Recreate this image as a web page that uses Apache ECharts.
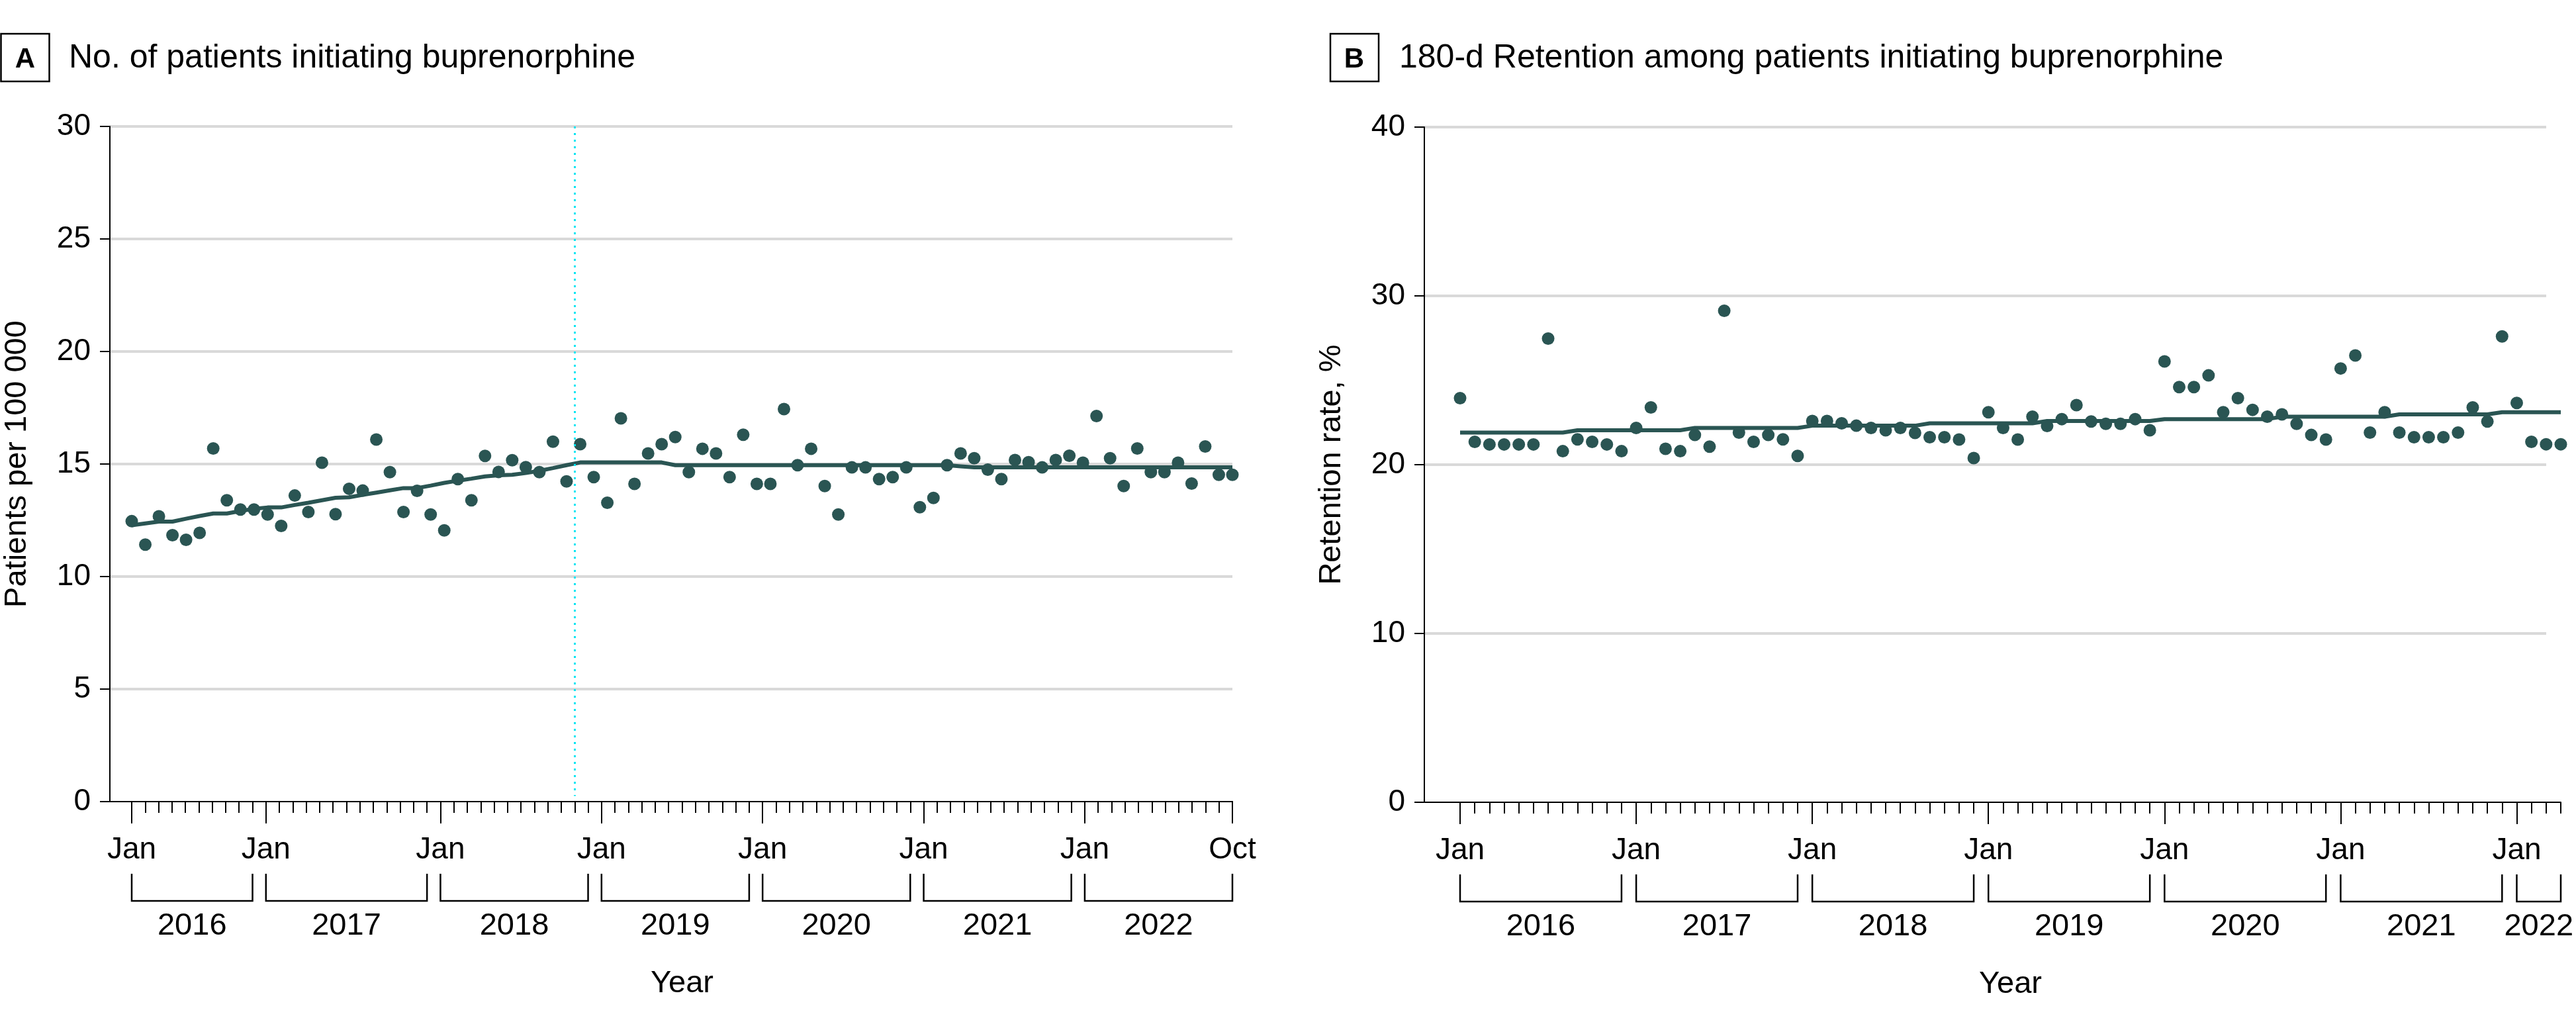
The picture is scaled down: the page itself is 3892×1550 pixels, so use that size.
<!DOCTYPE html>
<html><head><meta charset="utf-8">
<script src="https://cdn.jsdelivr.net/npm/echarts@6/dist/echarts.min.js"></script>
<style>html,body{margin:0;padding:0;background:#fff}#c{width:3892px;height:1550px}</style>
</head><body><div id="c"></div>
<script>
const FONT = '"Liberation Sans", Arial, sans-serif';
const TEAL = '#2a5553';
const GRID_GRAY = '#d9d9d9';

// ---------- Panel A: No. of patients initiating buprenorphine (Jan 2016 - Oct 2022) ----------
const patientsA = [12.46, 11.42, 12.68, 11.84, 11.63, 11.94, 15.69, 13.39, 12.98, 12.98,
  12.76, 12.25, 13.60, 12.87, 15.06, 12.77, 13.90, 13.82, 16.09, 14.64,
  12.87, 13.81, 12.76, 12.05, 14.33, 13.39, 15.36, 14.65, 15.17, 14.86,
  14.64, 15.99, 14.23, 15.88, 14.42, 13.28, 17.03, 14.12, 15.47, 15.88,
  16.20, 14.64, 15.68, 15.47, 14.42, 16.30, 14.12, 14.12, 17.44, 14.95,
  15.68, 14.02, 12.76, 14.85, 14.85, 14.33, 14.42, 14.85, 13.08, 13.49,
  14.95, 15.47, 15.26, 14.75, 14.33, 15.18, 15.08, 14.85, 15.18, 15.37,
  15.06, 17.13, 15.26, 14.02, 15.69, 14.64, 14.64, 15.06, 14.13, 15.78,
  14.52, 14.52];
const trendA = [12.28, 12.36, 12.44, 12.44, 12.57, 12.69, 12.80, 12.80, 12.91, 13.01,
  13.07, 13.07, 13.18, 13.28, 13.39, 13.50, 13.52, 13.63, 13.73, 13.83,
  13.93, 13.93, 14.04, 14.16, 14.26, 14.35, 14.45, 14.50, 14.52, 14.60,
  14.70, 14.82, 14.95, 15.07, 15.07, 15.07, 15.07, 15.07, 15.07, 15.07,
  14.95, 14.95, 14.95, 14.95, 14.95, 14.95, 14.95, 14.95, 14.95, 14.95,
  14.95, 14.95, 14.95, 14.95, 14.95, 14.95, 14.95, 14.95, 14.95, 14.95,
  14.95, 14.90, 14.85, 14.85, 14.85, 14.85, 14.85, 14.85, 14.85, 14.85,
  14.85, 14.85, 14.85, 14.85, 14.85, 14.85, 14.85, 14.85, 14.85, 14.85,
  14.85, 14.85];
const tickCountA = 83;
const tickMajorA = [0, 10, 23, 35, 47, 59, 71, 82];
const tickMajorTextA = ['Jan', 'Jan', 'Jan', 'Jan', 'Jan', 'Jan', 'Jan', 'Oct'];
const yearsA = ['2016', '2017', '2018', '2019', '2020', '2021', '2022'];
const bracketStartA = [0, 10, 23, 35, 47, 59, 71];
const bracketEndA = [9, 22, 34, 46, 58, 70, 82];
const cyanLineA = 32.6;

// ---------- Panel B: 180-d retention (Jan 2016 - Apr 2022) ----------
const retentionB = [23.94, 21.35, 21.20, 21.20, 21.20, 21.20, 27.47, 20.80, 21.50, 21.35,
  21.20, 20.80, 22.18, 23.39, 20.94, 20.80, 21.76, 21.07, 29.12, 21.90,
  21.35, 21.76, 21.50, 20.52, 22.59, 22.59, 22.45, 22.31, 22.18, 22.04,
  22.18, 21.88, 21.63, 21.63, 21.49, 20.39, 23.11, 22.18, 21.49, 22.84,
  22.29, 22.70, 23.53, 22.56, 22.42, 22.42, 22.70, 22.04, 26.12, 24.60,
  24.60, 25.29, 23.11, 23.94, 23.25, 22.84, 22.98, 22.42, 21.76, 21.49,
  25.70, 26.47, 21.90, 23.11, 21.90, 21.63, 21.63, 21.63, 21.90, 23.39,
  22.56, 27.60, 23.66, 21.35, 21.21, 21.21];
const trendB = [21.90, 21.90, 21.90, 21.90, 21.90, 21.90, 21.90, 21.90,
  22.04, 22.04, 22.04, 22.04, 22.04, 22.04, 22.04, 22.04,
  22.18, 22.18, 22.18, 22.18, 22.18, 22.18, 22.18, 22.18,
  22.31, 22.31, 22.31, 22.31, 22.31, 22.31, 22.31, 22.31,
  22.45, 22.45, 22.45, 22.45, 22.45, 22.45, 22.45, 22.45,
  22.59, 22.59, 22.59, 22.59, 22.59, 22.59, 22.59, 22.59,
  22.70, 22.70, 22.70, 22.70, 22.70, 22.70, 22.70, 22.70,
  22.84, 22.84, 22.84, 22.84, 22.84, 22.84, 22.84, 22.84,
  22.98, 22.98, 22.98, 22.98, 22.98, 22.98, 22.98,
  23.11, 23.11, 23.11, 23.11, 23.11];
const tickCountB = 76;
const tickMajorB = [0, 12, 24, 36, 48, 60, 72];
const tickMajorTextB = ['Jan', 'Jan', 'Jan', 'Jan', 'Jan', 'Jan', 'Jan'];
const yearsB = ['2016', '2017', '2018', '2019', '2020', '2021', '2022'];
const bracketStartB = [0, 12, 24, 36, 48, 60, 72];
const bracketEndB = [11, 23, 35, 47, 59, 71, 75];

// ---------- helpers ----------
function tickKeys(n) { const a = []; for (let i = 0; i < n; i++) a.push('t' + i); return a; }
function labelMap(majors, texts) { const m = {}; majors.forEach((v, k) => { m[v] = texts[k]; }); return m; }
const txt = { color: '#000', fontFamily: FONT };

function mainAxes(gridIndex, yMax, yInterval, yName, nLines) {
  const colors = [];
  for (let i = 0; i < nLines; i++) colors.push(i === 0 ? 'rgba(0,0,0,0)' : GRID_GRAY);
  return {
    x: { type: 'value', gridIndex, min: 0, max: 1, position: 'bottom',
      axisLine: { show: true, onZero: false, lineStyle: { color: '#000', width: 2 } },
      axisTick: { show: false }, axisLabel: { show: false }, splitLine: { show: false } },
    y: { type: 'value', gridIndex, min: 0, max: yMax, interval: yInterval,
      axisLine: { show: true, lineStyle: { color: '#000', width: 2 } },
      axisTick: { show: true, length: 15, lineStyle: { color: '#000', width: 2 } },
      axisLabel: { margin: 29, fontSize: 46, ...txt },
      splitLine: { show: true, lineStyle: { color: colors, width: 4 } },
      name: yName, nameLocation: 'middle', nameRotate: 90, nameGap: 116,
      nameTextStyle: { fontSize: 47, ...txt } }
  };
}
function tickAxes(gridIndex, count, majors, texts) {
  const keys = tickKeys(count);
  const lm = labelMap(majors, texts);
  const isMajor = (i) => lm[i] !== undefined;
  return [
    { type: 'category', gridIndex, data: keys, boundaryGap: false, position: 'bottom', offset: 0,
      axisLine: { show: false },
      axisTick: { show: true, interval: isMajor, length: 33, lineStyle: { color: '#000', width: 2 } },
      axisLabel: { show: true, interval: isMajor, formatter: (v, i) => lm[i] || '', margin: 50, fontSize: 46, ...txt },
      splitLine: { show: false } },
    { type: 'category', gridIndex, data: keys, boundaryGap: false, position: 'bottom', offset: 0,
      axisLine: { show: true, onZero: false, lineStyle: { color: '#000', width: 2 } },
      axisTick: { show: true, interval: 0, length: 17, lineStyle: { color: '#000', width: 2 } },
      axisLabel: { show: false }, splitLine: { show: false },
      name: 'Year', nameLocation: 'middle', nameGap: 252, nameTextStyle: { fontSize: 47, ...txt } }
  ];
}
function bracketSeries(xAxisIndex, yAxisIndex, starts, ends, years) {
  return {
    type: 'custom', xAxisIndex, yAxisIndex, clip: false, silent: true, z: 5,
    encode: { x: [0, 1], y: 2 },
    data: starts.map((s, k) => [s, ends[k], 0]),
    renderItem: (params, api) => {
      const s = api.coord([api.value(0), 0]);
      const e = api.coord([api.value(1), 0]);
      const y0 = s[1];
      return { type: 'group', children: [
        { type: 'polyline', shape: { points: [[s[0], y0 + 109], [s[0], y0 + 150], [e[0], y0 + 150], [e[0], y0 + 109]] },
          style: { stroke: '#000', lineWidth: 2.5, fill: 'none' } },
        { type: 'text', style: { text: years[params.dataIndex], x: (s[0] + e[0]) / 2, y: y0 + 188,
          align: 'center', verticalAlign: 'middle', fontSize: 47, fontFamily: FONT, fill: '#000' } }
      ] };
    }
  };
}

const mA = mainAxes(0, 30, 5, 'Patients per 100 000', 7);
const mB = mainAxes(2, 40, 10, 'Retention rate, %', 5);
const tA = tickAxes(1, tickCountA, tickMajorA, tickMajorTextA);
const tB = tickAxes(3, tickCountB, tickMajorB, tickMajorTextB);

const option = {
  animation: false,
  backgroundColor: '#fff',
  grid: [
    { left: 166, top: 191, width: 1696, height: 1020, outerBoundsMode: 'none', containLabel: false },
    { left: 199, top: 191, width: 1663, height: 1020, outerBoundsMode: 'none', containLabel: false },
    { left: 2152, top: 192, width: 1695, height: 1020, outerBoundsMode: 'none', containLabel: false },
    { left: 2206, top: 192, width: 1663, height: 1020, outerBoundsMode: 'none', containLabel: false }
  ],
  xAxis: [
    mA.x,                      // 0
    tA[0], tA[1],              // 1,2
    { type: 'value', gridIndex: 1, min: 0, max: patientsA.length - 1, show: false, position: 'top' }, // 3
    mB.x,                      // 4
    tB[0], tB[1],              // 5,6
    { type: 'value', gridIndex: 3, min: 0, max: retentionB.length - 1, show: false, position: 'top' }  // 7
  ],
  yAxis: [
    mA.y,
    { type: 'value', gridIndex: 1, min: 0, max: 30, show: false },
    mB.y,
    { type: 'value', gridIndex: 3, min: 0, max: 40, show: false }
  ],
  series: [
    { type: 'line', xAxisIndex: 3, yAxisIndex: 1, data: trendA.map((v, i) => [i, v]),
      showSymbol: false, symbol: 'none', lineStyle: { color: TEAL, width: 6 }, z: 3, silent: true,
      markLine: { silent: true, symbol: 'none', label: { show: false },
        lineStyle: { color: '#00e5f2', type: [3, 7], width: 3 },
        data: [[{ coord: [cyanLineA, 30] }, { coord: [cyanLineA, 0.25] }]] } },
    { type: 'scatter', xAxisIndex: 3, yAxisIndex: 1, data: patientsA.map((v, i) => [i, v]),
      symbolSize: 19, itemStyle: { color: TEAL, opacity: 1 }, z: 4, silent: true },
    { type: 'line', xAxisIndex: 7, yAxisIndex: 3, data: trendB.map((v, i) => [i, v]),
      showSymbol: false, symbol: 'none', lineStyle: { color: TEAL, width: 6 }, z: 3, silent: true },
    { type: 'scatter', xAxisIndex: 7, yAxisIndex: 3, data: retentionB.map((v, i) => [i, v]),
      symbolSize: 19, itemStyle: { color: TEAL, opacity: 1 }, z: 4, silent: true },
    bracketSeries(2, 1, bracketStartA, bracketEndA, yearsA),
    bracketSeries(6, 3, bracketStartB, bracketEndB, yearsB)
  ],
  graphic: [
    { type: 'rect', shape: { x: 1.5, y: 51, width: 73, height: 72 }, style: { fill: 'none', stroke: '#000', lineWidth: 2.5 } },
    { type: 'text', x: 38, y: 90, style: { text: 'A', align: 'center', verticalAlign: 'middle', fontSize: 42, fontWeight: 'bold', fontFamily: FONT, fill: '#000' } },
    { type: 'text', x: 104, y: 88, style: { text: 'No. of patients initiating buprenorphine', verticalAlign: 'middle', fontSize: 50, fontFamily: FONT, fill: '#000' } },
    { type: 'rect', shape: { x: 2010, y: 51, width: 73, height: 72 }, style: { fill: 'none', stroke: '#000', lineWidth: 2.5 } },
    { type: 'text', x: 2046, y: 90, style: { text: 'B', align: 'center', verticalAlign: 'middle', fontSize: 42, fontWeight: 'bold', fontFamily: FONT, fill: '#000' } },
    { type: 'text', x: 2114, y: 88, style: { text: '180-d Retention among patients initiating buprenorphine', verticalAlign: 'middle', fontSize: 50, fontFamily: FONT, fill: '#000' } }
  ]
};
const chart = echarts.init(document.getElementById('c'), null, { renderer: 'canvas' });
chart.setOption(option);
</script></body></html>
